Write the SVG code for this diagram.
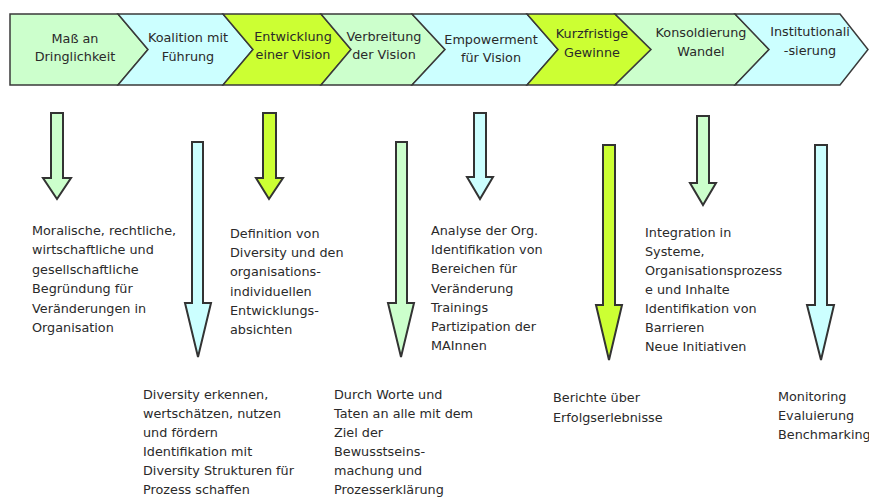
<svg xmlns="http://www.w3.org/2000/svg" width="869" height="500" viewBox="0 0 869 500">
<style>
.g{fill:#ccffcc}
.c{fill:#ccffff}
.y{fill:#ccff33}
.chev{stroke:#3a3a3a;stroke-width:1.5;stroke-linejoin:miter}
.arr{stroke:#333;stroke-width:2;stroke-linejoin:miter}
text{font-family:"DejaVu Sans",Verdana,sans-serif;font-size:12.8px;fill:#2a2a2a}
.lbl{text-anchor:middle}
</style>
<rect width="869" height="500" fill="#ffffff"/>
<g id="phase1"><polygon class="chev g" points="10,14 118,14 148,49.5 118,85 10,85"/><text class="lbl" x="75" y="43">Maß an</text><text class="lbl" x="75" y="61">Dringlichkeit</text></g>
<g id="phase2"><polygon class="chev c" points="118,14 223,14 253,49.5 223,85 118,85 148,49.5"/><text class="lbl" x="188" y="42">Koalition mit</text><text class="lbl" x="188" y="61">Führung</text></g>
<g id="phase3"><polygon class="chev y" points="223,14 321,14 351,49.5 321,85 223,85 253,49.5"/><text class="lbl" x="293" y="41">Entwicklung</text><text class="lbl" x="293" y="59">einer Vision</text></g>
<g id="phase4"><polygon class="chev g" points="321,14 412,14 445,49.5 412,85 321,85 351,49.5"/><text class="lbl" x="384" y="41">Verbreitung</text><text class="lbl" x="384" y="59">der Vision</text></g>
<g id="phase5"><polygon class="chev c" points="412,14 527,14 558,49.5 527,85 412,85 445,49.5"/><text class="lbl" x="491" y="44">Empowerment</text><text class="lbl" x="491" y="62">für Vision</text></g>
<g id="phase6"><polygon class="chev y" points="527,14 615,14 651,49.5 615,85 527,85 558,49.5"/><text class="lbl" x="592" y="38">Kurzfristige</text><text class="lbl" x="592" y="57">Gewinne</text></g>
<g id="phase7"><polygon class="chev g" points="615,14 735,14 769,49.5 735,85 615,85 651,49.5"/><text class="lbl" x="701" y="37">Konsoldierung</text><text class="lbl" x="701" y="56">Wandel</text></g>
<g id="phase8"><polygon class="chev c" points="735,14 840,14 868,49.5 840,85 735,85 769,49.5"/><text class="lbl" x="810" y="36">Institutionali</text><text class="lbl" x="810" y="55">-sierung</text></g>
<g id="connectors">
<polygon class="arr g" points="51,113 63,113 63,178 71,178 57,199 43,178 51,178"/>
<polygon class="arr c" points="192,142 203,142 203,303 211,303 198,357 185,303 192,303"/>
<polygon class="arr y" points="263,113 276,113 276,178 283,178 269,199 256,178 263,178"/>
<polygon class="arr g" points="396,142 407,142 407,303 414,303 401,357 388,303 396,303"/>
<polygon class="arr c" points="474,113 486,113 486,177 493,177 480,199 467,177 474,177"/>
<polygon class="arr y" points="603,145 615,145 615,305 622,305 609,360 596,305 603,305"/>
<polygon class="arr g" points="697,116 709,116 709,183 716,183 703,205 690,183 697,183"/>
<polygon class="arr c" points="815,145 827,145 827,305 834,305 821,360 807,305 815,305"/>
</g>
<g id="text1"><text x="32" y="235"><tspan x="32">Moralische, rechtliche,</tspan><tspan x="32" dy="19.4">wirtschaftliche und</tspan><tspan x="32" dy="19.4">gesellschaftliche</tspan><tspan x="32" dy="19.4">Begründung für</tspan><tspan x="32" dy="19.4">Veränderungen in</tspan><tspan x="32" dy="19.4">Organisation</tspan></text></g>
<g id="text2"><text x="143" y="399"><tspan x="143">Diversity erkennen,</tspan><tspan x="143" dy="19">wertschätzen, nutzen</tspan><tspan x="143" dy="19">und fördern</tspan><tspan x="143" dy="19">Identifikation mit</tspan><tspan x="143" dy="19">Diversity Strukturen für</tspan><tspan x="143" dy="19">Prozess schaffen</tspan></text></g>
<g id="text3"><text x="230" y="238"><tspan x="230">Definition von</tspan><tspan x="230" dy="19.2">Diversity und den</tspan><tspan x="230" dy="19.2">organisations-</tspan><tspan x="230" dy="19.2">individuellen</tspan><tspan x="230" dy="19.2">Entwicklungs-</tspan><tspan x="230" dy="19.2">absichten</tspan></text></g>
<g id="text4"><text x="334" y="399"><tspan x="334">Durch Worte und</tspan><tspan x="334" dy="19">Taten an alle mit dem</tspan><tspan x="334" dy="19">Ziel der</tspan><tspan x="334" dy="19">Bewusstseins-</tspan><tspan x="334" dy="19">machung und</tspan><tspan x="334" dy="19">Prozesserklärung</tspan></text></g>
<g id="text5"><text x="431" y="235"><tspan x="431">Analyse der Org.</tspan><tspan x="431" dy="19.2">Identifikation von</tspan><tspan x="431" dy="19.2">Bereichen für</tspan><tspan x="431" dy="19.2">Veränderung</tspan><tspan x="431" dy="19.2">Trainings</tspan><tspan x="431" dy="19.2">Partizipation der</tspan><tspan x="431" dy="19.2">MAInnen</tspan></text></g>
<g id="text6"><text x="553" y="402"><tspan x="553">Berichte über</tspan><tspan x="553" dy="20">Erfolgserlebnisse</tspan></text></g>
<g id="text7"><text x="645" y="237"><tspan x="645">Integration in</tspan><tspan x="645" dy="19">Systeme,</tspan><tspan x="645" dy="19">Organisationsprozess</tspan><tspan x="645" dy="19">e und Inhalte</tspan><tspan x="645" dy="19">Identifikation von</tspan><tspan x="645" dy="19">Barrieren</tspan><tspan x="645" dy="19">Neue Initiativen</tspan></text></g>
<g id="text8"><text x="778" y="401"><tspan x="778">Monitoring</tspan><tspan x="778" dy="19">Evaluierung</tspan><tspan x="778" dy="19">Benchmarking</tspan></text></g>
</svg>
